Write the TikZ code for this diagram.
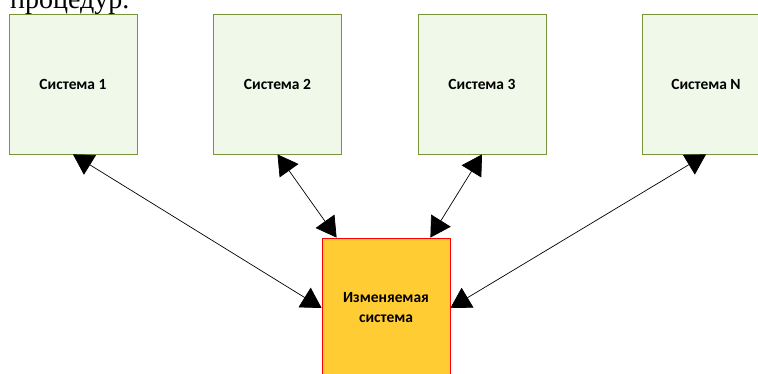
\documentclass[tikz,border=0pt]{standalone}
\usepackage{fontspec}
\setmainfont{Liberation Serif}
\newfontfamily\boxfont{Carlito}
\usetikzlibrary{arrows.meta}

\definecolor{sysfill}{HTML}{F0F8E9}
\definecolor{sysline}{HTML}{77933C}
\definecolor{chgfill}{HTML}{FFCC33}
\definecolor{chgline}{HTML}{FF0000}

\begin{document}
\begin{tikzpicture}
  [x=1pt,y=-1pt,
   sys/.style={draw=sysline, fill=sysfill, line width=0.8pt, inner sep=0pt,
     minimum width=128pt, minimum height=140pt, align=center,
     font=\boxfont\bfseries\fontsize{15.5}{20}\selectfont},
   chg/.style={sys, draw=chgline, fill=chgfill},
   link/.style={{Triangle[length=20pt,width=23pt]}-{Triangle[length=20pt,width=23pt]}, line width=0.7pt}]
  \useasboundingbox (0,0) rectangle (758,374);

  \node[anchor=base west, inner sep=0pt, font=\fontsize{28}{30}\selectfont] (txt) at (10,9) {процедур.};

  \node[sys] (s1) at (73,84) {Система 1};
  \node[sys] (s2) at (277.5,84) {Система 2};
  \node[sys] (s3) at (482,84) {Система 3};
  \node[sys] (sN) at (706,84) {Система N};

  \node[chg] (ch) at (386,308) {Изменяемая\\система};
  \coordinate (chl) at ([xshift=15pt]ch.north west);
  \coordinate (chr) at ([xshift=-20pt]ch.north east);

  \foreach \from/\to in {s1.south/ch.west, s2.south/chl, s3.south/chr, sN.south/ch.east}
      \draw[link] (\from) -- (\to);
\end{tikzpicture}
\end{document}
